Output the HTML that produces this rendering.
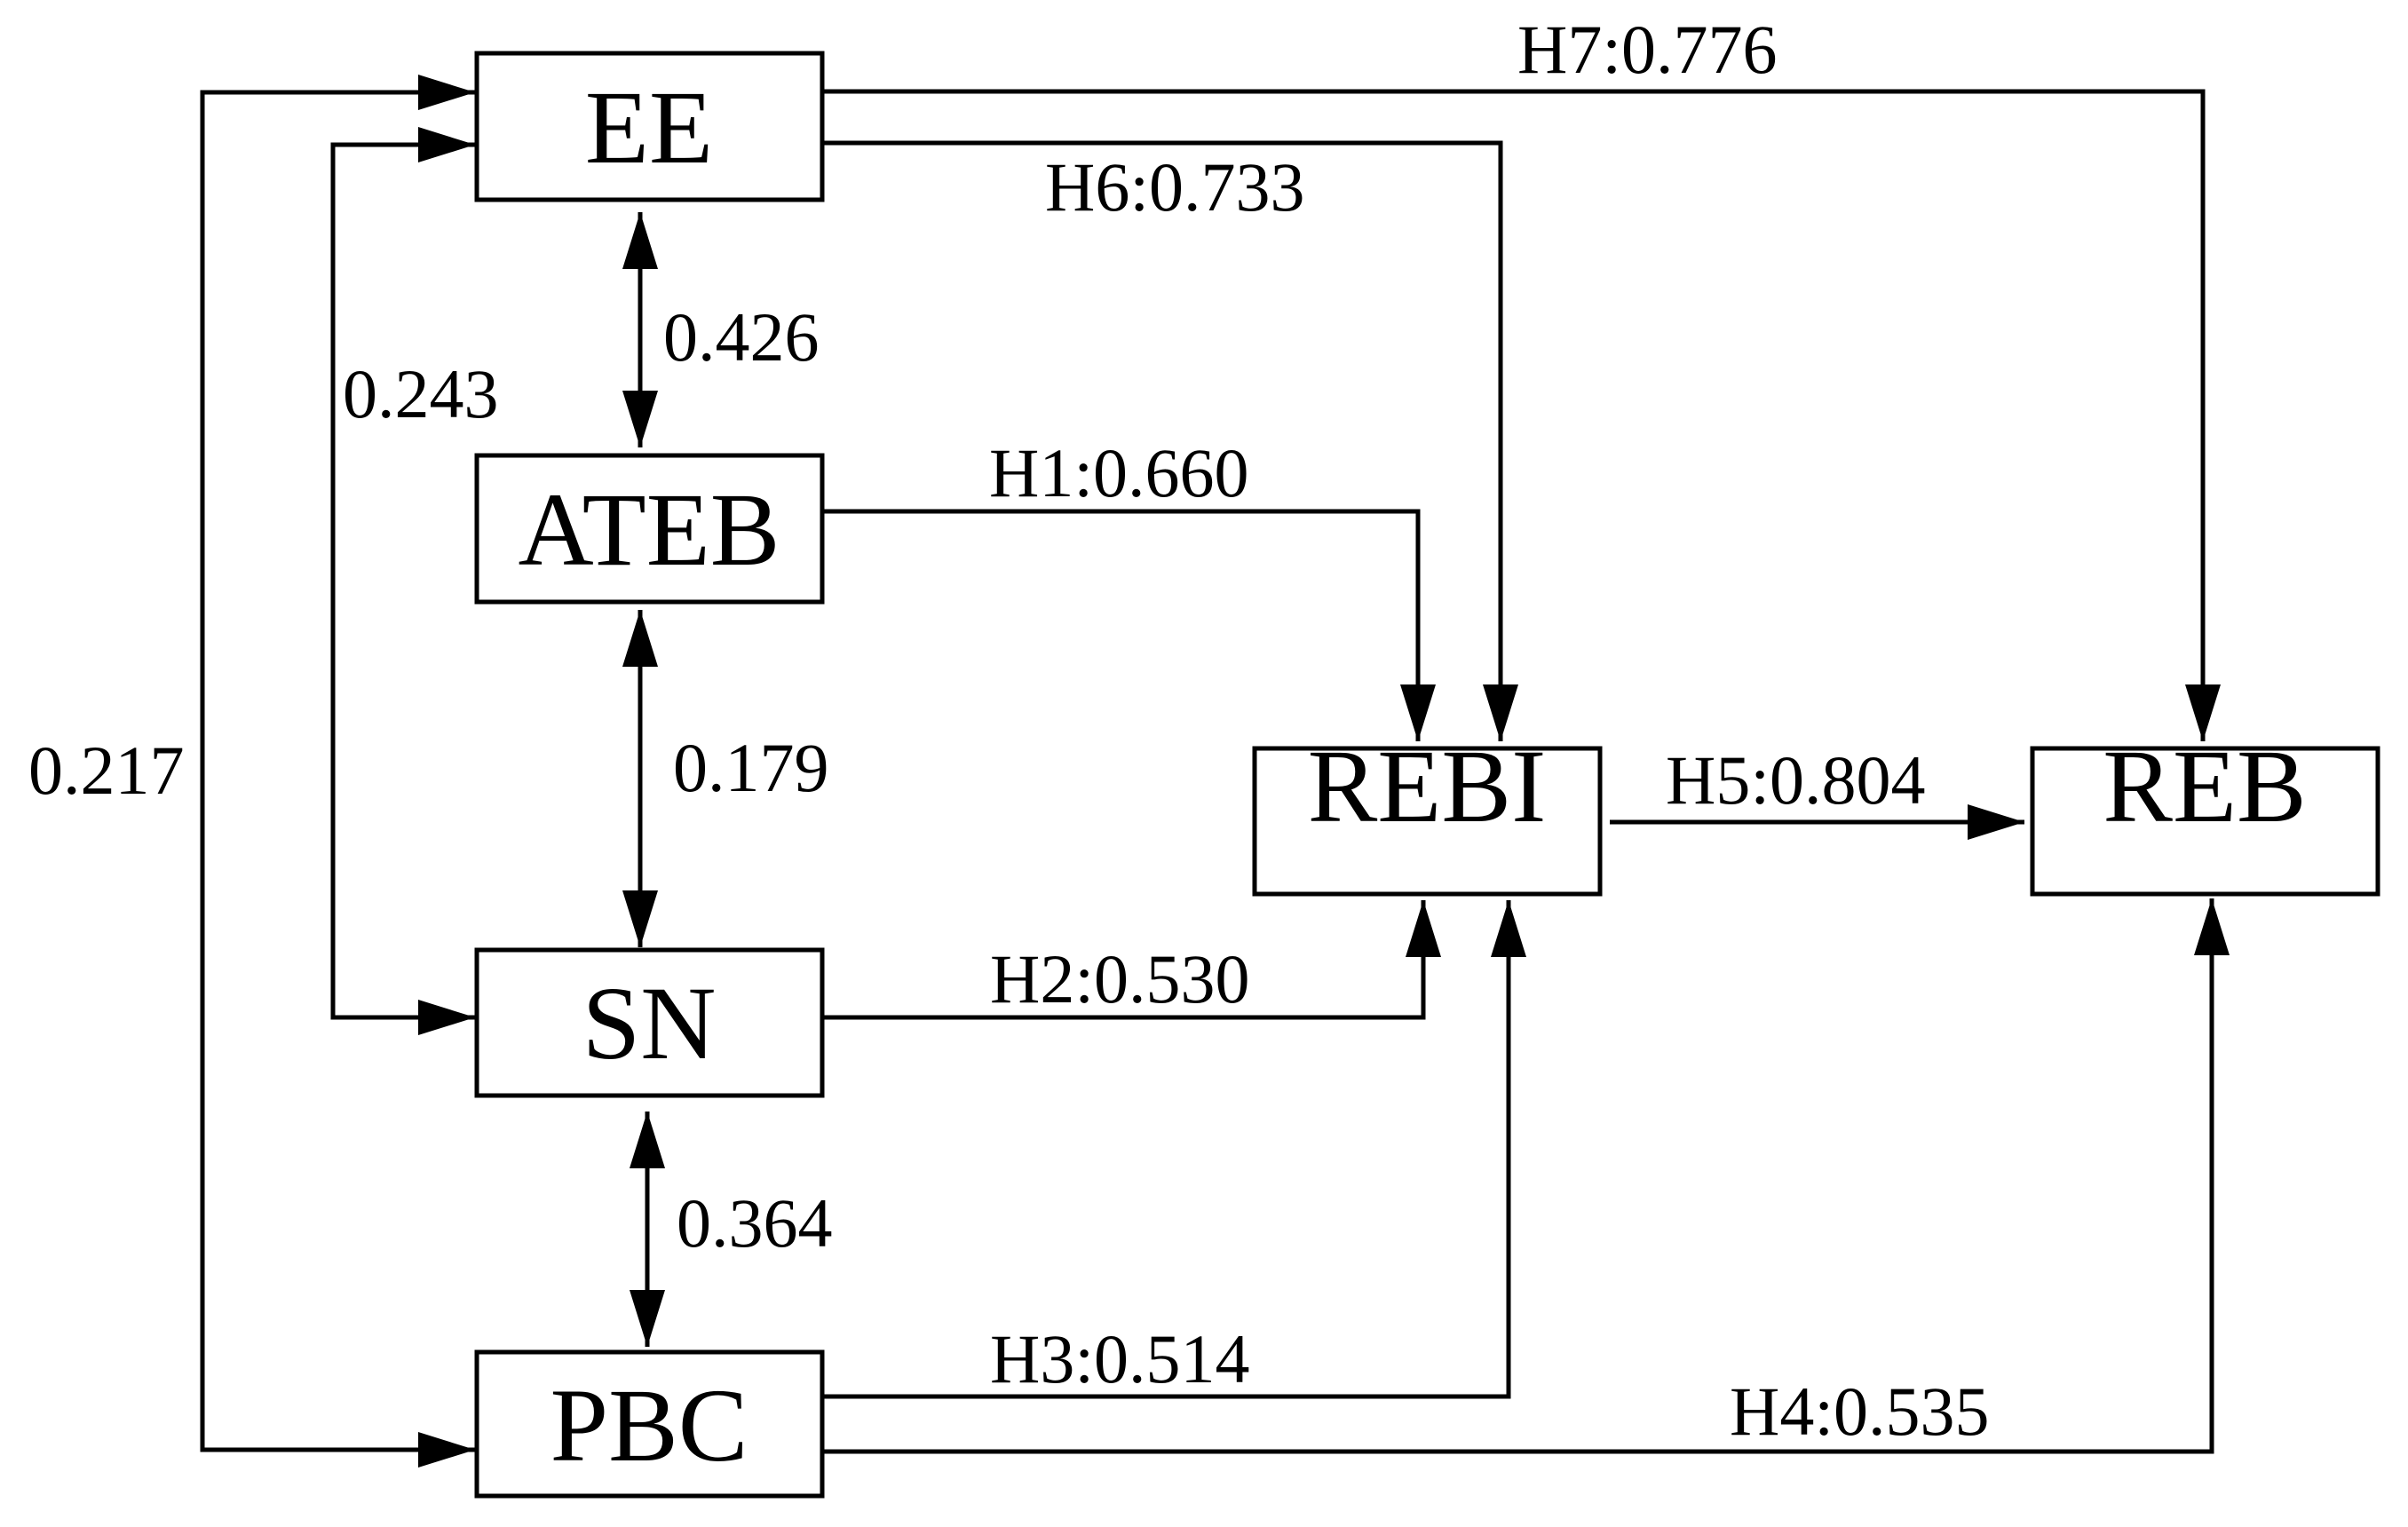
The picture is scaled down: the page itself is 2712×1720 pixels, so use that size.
<!DOCTYPE html>
<html><head><meta charset="utf-8"><style>html,body{margin:0;padding:0;background:#fff}svg{display:block}</style></head>
<body>
<svg width="2712" height="1720" viewBox="0 0 2712 1720" xmlns="http://www.w3.org/2000/svg">
<defs>
<marker id="a" viewBox="0 0 64 40" refX="64" refY="20" markerWidth="64" markerHeight="40" markerUnits="userSpaceOnUse" orient="auto-start-reverse">
<path d="M0,0 L64,20 L0,40 Z" fill="#000"/>
</marker>
</defs>
<g fill="#fff" stroke="#000" stroke-width="5">
<rect x="537" y="60" width="389" height="165"/>
<rect x="537" y="513" width="389" height="165"/>
<rect x="537" y="1070" width="389" height="164"/>
<rect x="537" y="1523" width="389" height="162"/>
<rect x="1413" y="843" width="389" height="164"/>
<rect x="2289" y="843" width="389" height="164"/>
</g>
<g fill="none" stroke="#000" stroke-width="5">
<polyline points="535,104 228,104 228,1633 535,1633" marker-start="url(#a)" marker-end="url(#a)"/>
<polyline points="535,163 375,163 375,1146 535,1146" marker-start="url(#a)" marker-end="url(#a)"/>
<line x1="721" y1="239" x2="721" y2="504" marker-start="url(#a)" marker-end="url(#a)"/>
<line x1="721" y1="687" x2="721" y2="1067" marker-start="url(#a)" marker-end="url(#a)"/>
<line x1="729" y1="1252" x2="729" y2="1517" marker-start="url(#a)" marker-end="url(#a)"/>
<polyline points="926,103 2481,103 2481,835" marker-end="url(#a)"/>
<polyline points="926,161 1690,161 1690,835" marker-end="url(#a)"/>
<polyline points="926,576 1597,576 1597,835" marker-end="url(#a)"/>
<line x1="1813" y1="926" x2="2280" y2="926" marker-end="url(#a)"/>
<polyline points="926,1146 1603,1146 1603,1014" marker-end="url(#a)"/>
<polyline points="926,1573 1699,1573 1699,1014" marker-end="url(#a)"/>
<polyline points="926,1635 2491,1635 2491,1012" marker-end="url(#a)"/>
</g>
<g font-family="'Liberation Serif', serif" font-size="118" text-anchor="middle" fill="#000">
<text x="731" y="183">EE</text>
<text x="731" y="636">ATEB</text>
<text x="731" y="1192">SN</text>
<text x="731" y="1645">PBC</text>
<text x="1607" y="925">REBI</text>
<text x="2483" y="925">REB</text>
</g>
<g font-family="'Liberation Serif', serif" font-size="78" fill="#000">
<text x="747" y="406">0.426</text>
<text x="386" y="470">0.243</text>
<text x="32" y="894">0.217</text>
<text x="758" y="891">0.179</text>
<text x="762" y="1404">0.364</text>
<text x="1709" y="82">H7:0.776</text>
<text x="1177" y="237">H6:0.733</text>
<text x="1114" y="559">H1:0.660</text>
<text x="1876" y="905">H5:0.804</text>
<text x="1115" y="1129">H2:0.530</text>
<text x="1115" y="1557">H3:0.514</text>
<text x="1948" y="1616">H4:0.535</text>
</g>
</svg>
</body></html>
